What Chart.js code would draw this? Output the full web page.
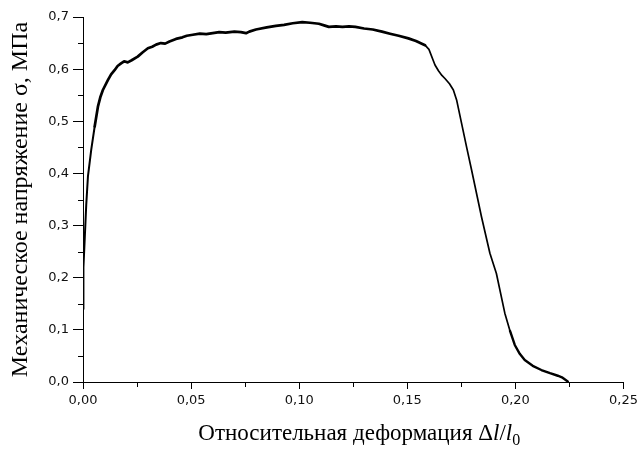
<!DOCTYPE html>
<html>
<head>
<meta charset="utf-8">
<script src="https://cdn.jsdelivr.net/npm/chart.js@4/dist/chart.umd.min.js"></script>
<style>
html,body{margin:0;padding:0;background:#fff;}
#c{display:block;}
</style>
</head>
<body>
<canvas id="c" width="642" height="450"></canvas>
<script>
// Strain (Δl/l0) and stress (MPa)
const strain = [0.0000,0.0002,0.0008,0.0015,0.0023,0.0038,0.0054,0.0069,0.0080,0.0092,0.0115,0.0130,0.0146,0.0160,0.0176,0.0190,0.0207,0.0225,0.0253,0.0275,0.0300,0.0320,0.0338,0.0360,0.0380,0.0400,0.0430,0.0460,0.0480,0.0508,0.0540,0.0570,0.0600,0.0630,0.0660,0.0700,0.0730,0.0754,0.0769,0.0800,0.0850,0.0892,0.0930,0.0970,0.1014,0.1050,0.1091,0.1115,0.1137,0.1170,0.1200,0.1230,0.1260,0.1300,0.1340,0.1383,0.1420,0.1460,0.1505,0.1540,0.1582,0.1600,0.1628,0.1644,0.1660,0.1674,0.1695,0.1713,0.1728,0.1751,0.1774,0.1797,0.1843,0.1882,0.1912,0.1951,0.1975,0.1997,0.2020,0.2043,0.2080,0.2120,0.2160,0.2196,0.2215,0.2242];
const stress = [0.140,0.220,0.275,0.340,0.395,0.445,0.490,0.528,0.546,0.560,0.579,0.590,0.598,0.606,0.611,0.615,0.613,0.617,0.624,0.632,0.640,0.643,0.647,0.650,0.649,0.653,0.658,0.661,0.664,0.666,0.668,0.667,0.669,0.671,0.670,0.672,0.671,0.669,0.672,0.676,0.680,0.683,0.685,0.688,0.690,0.689,0.687,0.684,0.681,0.682,0.681,0.682,0.681,0.678,0.676,0.672,0.668,0.664,0.659,0.654,0.646,0.638,0.608,0.597,0.588,0.582,0.572,0.560,0.541,0.496,0.451,0.407,0.317,0.247,0.208,0.132,0.098,0.071,0.054,0.042,0.031,0.023,0.017,0.012,0.009,0.001];

const xTicks = [0, 0.05, 0.10, 0.15, 0.20, 0.25];
const yTicks = [0, 0.1, 0.2, 0.3, 0.4, 0.5, 0.6, 0.7];
const xMinorTicks = [0.025, 0.075, 0.125, 0.175, 0.225];
const yMinorTicks = [0.05, 0.15, 0.25, 0.35, 0.45, 0.55, 0.65];

const yTitle = 'Механическое напряжение σ, МПа';
const xTitleParts = [
  {t: 'Относительная деформация Δ', style: ''},
  {t: 'l', style: 'italic '},
  {t: '/', style: ''},
  {t: 'l', style: 'italic '},
  {t: '0', style: '', sub: true}
];

const points = strain.map((x, i) => ({x: x, y: stress[i]}));

const extras = {
  id: 'extras',
  afterDraw(chart) {
    const ctx = chart.ctx;
    const xs = chart.scales.x, ys = chart.scales.y;
    ctx.save();
    ctx.strokeStyle = '#000';
    ctx.lineWidth = 1;
    ctx.beginPath();
    xMinorTicks.forEach(v => {
      const px = Math.round(xs.getPixelForValue(v)) + 0.5;
      ctx.moveTo(px, ys.bottom);
      ctx.lineTo(px, ys.bottom + 5);
    });
    yMinorTicks.forEach(v => {
      const py = Math.round(ys.getPixelForValue(v)) + 0.5;
      ctx.moveTo(xs.left - 5, py);
      ctx.lineTo(xs.left, py);
    });
    ctx.stroke();

    // x-axis title with italic l and subscript 0
    const size = 23;
    const fam = '"Liberation Serif", "Times New Roman", serif';
    let total = 0;
    const widths = xTitleParts.map(p => {
      ctx.font = p.style + (p.sub ? Math.round(size * 0.7) : size) + 'px ' + fam;
      const w = ctx.measureText(p.t).width;
      total += w;
      return w;
    });
    let x = (xs.left + xs.right) / 2 + 6 - total / 2;
    const base = 440;
    ctx.fillStyle = '#000';
    ctx.textBaseline = 'alphabetic';
    ctx.textAlign = 'left';
    xTitleParts.forEach((p, i) => {
      ctx.font = p.style + (p.sub ? Math.round(size * 0.7) : size) + 'px ' + fam;
      ctx.fillText(p.t, x, p.sub ? base + 5 : base);
      x += widths[i];
    });
    ctx.restore();
  }
};

const fmt = (d) => (v) => v.toFixed(d).replace('.', ',');

new Chart(document.getElementById('c'), {
  type: 'line',
  data: {
    datasets: [{
      data: points,
      borderColor: '#000',
      borderWidth: 2.4,
      pointRadius: 0,
      tension: 0,
      fill: false,
      borderJoinStyle: 'round',
      borderCapStyle: 'round',
      segment: {
        borderWidth: (c) => {
          const x = c.p0.parsed.x;
          if (x < 0.004) return 2.0;
          if (x < 0.158) return 2.7;
          if (x < 0.196) return 1.7;
          return 2.4;
        }
      }
    }]
  },
  options: {
    responsive: false,
    animation: false,
    devicePixelRatio: 1,
    layout: {padding: {top: 17, right: 16, left: 0, bottom: 0}},
    plugins: {legend: {display: false}, tooltip: {enabled: false}},
    scales: {
      x: {
        type: 'linear',
        min: 0, max: 0.25,
        afterBuildTicks: (s) => { s.ticks = xTicks.map(v => ({value: v})); },
        afterFit: (s) => { s.height = 68; },
        ticks: {
          callback: fmt(2),
          font: {family: '"DejaVu Sans", sans-serif', size: 13},
          color: '#111',
          padding: 4,
          maxRotation: 0
        },
        grid: {display: true, drawOnChartArea: false, drawTicks: true, tickLength: 7, color: '#000', lineWidth: 1},
        border: {display: true, color: '#000', width: 1}
      },
      y: {
        type: 'linear',
        min: 0, max: 0.7,
        afterBuildTicks: (s) => { s.ticks = yTicks.map(v => ({value: v})); },
        afterFit: (s) => { s.width = 83; },
        ticks: {
          callback: fmt(1),
          font: {family: '"DejaVu Sans", sans-serif', size: 13},
          color: '#111',
          padding: 4
        },
        grid: {display: true, drawOnChartArea: false, drawTicks: true, tickLength: 10, color: '#000', lineWidth: 1},
        border: {display: true, color: '#000', width: 1},
        title: {
          display: true,
          text: yTitle,
          color: '#000',
          font: {family: '"Liberation Serif", "Times New Roman", serif', size: 24, weight: 'normal'},
          padding: {top: 6, bottom: 0}
        }
      }
    }
  },
  plugins: [extras]
});
</script>
</body>
</html>
